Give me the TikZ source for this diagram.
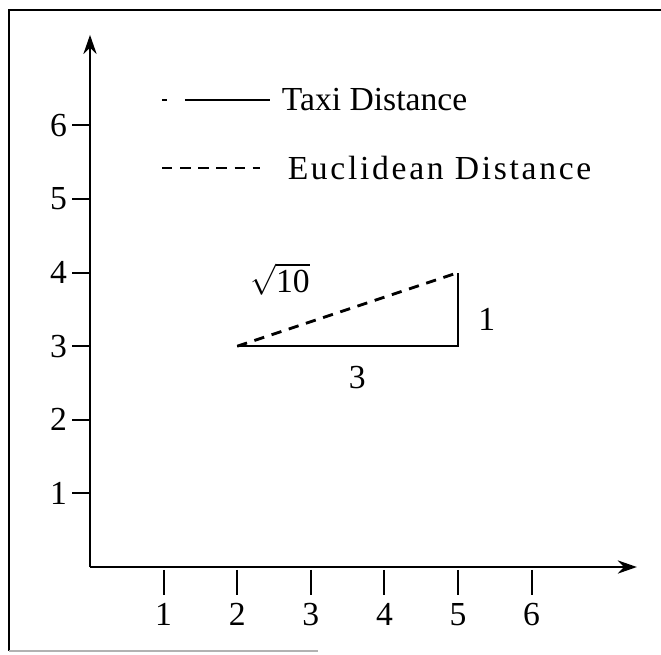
\documentclass[tikz,border=0pt]{standalone}
\usepackage{fontspec}
\setmainfont{Liberation Serif}
\usetikzlibrary{arrows.meta,positioning}
\tikzset{
  axis/.style={line width=0.8pt, -{Stealth[length=2.6mm,width=1.8mm]}},
  tick/.style={line width=0.8pt},
  frame/.style={line width=0.8pt},
  lbl/.style={font=\fontsize{13}{15}\selectfont, inner sep=1pt},
  legtext/.style={lbl, anchor=west, inner sep=0pt},
  taxi/.style={line width=0.9pt},
  eucl/.style={line width=1.1pt, dash pattern=on 4pt off 3pt},
}

\begin{document}
\begin{tikzpicture}[x=1cm,y=1cm]
\useasboundingbox (-1.223,-1.182) rectangle (7.758,7.704);
% frame (scanned: left and top edges, faint bottom)
\coordinate (ftl) at (-1.1,7.57); \coordinate (ftr) at (7.758,7.57);
\coordinate (fbl) at (-1.1,-1.14); \coordinate (fbr) at (3.1,-1.14);
\draw[frame] (ftr) -- (ftl) -- (fbl);
\draw[frame, black!30] (fbl) -- (fbr);
% axes
\coordinate (O) at (0,0);
\coordinate (xend) at (7.43,0);
\coordinate (yend) at (0,7.23);
\draw[axis] (O) -- (xend);
\draw[axis] (O) -- (yend);
\foreach \i in {1,...,6}{
  \coordinate (xt\i) at (\i,-0.04); \coordinate (xb\i) at (\i,-0.38);
  \draw[tick] (xt\i) -- (xb\i);
  \node[lbl] (xl\i) at (\i,-0.65) {\i};
  \coordinate (yt\i) at (0,\i); \coordinate (yb\i) at (-0.245,\i);
  \draw[tick] (yt\i) -- (yb\i);
  \node[lbl, anchor=east] (yl\i) at (-0.27,\i) {\i};
}
% legend
\coordinate (ta) at (0.98,6.345); \coordinate (tb) at (1.05,6.345);
\coordinate (tc) at (1.29,6.345); \coordinate (td) at (2.45,6.345);
\draw[taxi] (ta) -- (tb) (tc) -- (td);
\node[legtext] (taxitxt) at (2.6,6.345) {Taxi Distance};
\coordinate (ea) at (0.98,5.42); \coordinate (eb) at (2.31,5.42);
\draw[eucl, line width=0.9pt] (ea) -- (eb);
\node[legtext, font={\fontsize{13}{15}\selectfont\addfontfeatures{LetterSpace=8}}] (euctxt) at (2.68,5.42) {Euclidean Distance};
% triangle from (2,3) to (5,4)
\coordinate (A) at (2,3); \coordinate (B) at (5,3); \coordinate (C) at (5,4);
\draw[taxi] (A) -- (B) -- (C);
\draw[eucl] (A) -- (C);
\node[lbl] (hyp) at (2.58,3.91) {$\sqrt{\mbox{10}}$};
\node[lbl] (rise) at (5.39,3.36) {1};
\node[lbl] (run) at (3.63,2.58) {3};
\end{tikzpicture}
\end{document}
